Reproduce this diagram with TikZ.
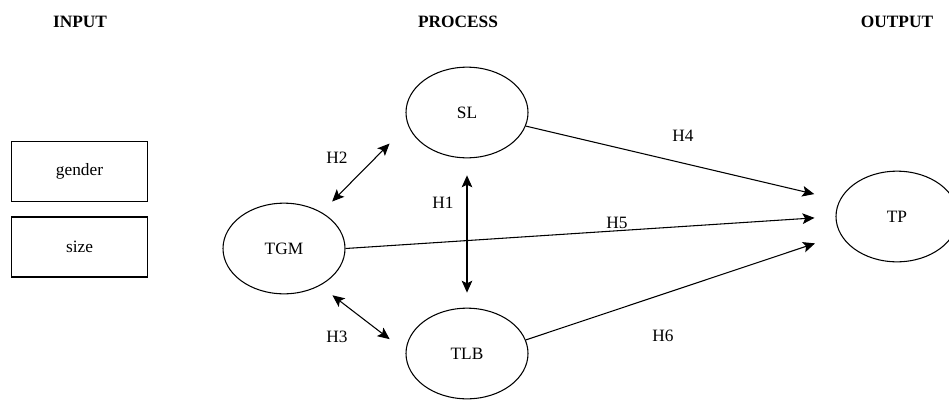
\documentclass[tikz,border=0pt]{standalone}
\usepackage{fontspec}
\setmainfont{Liberation Serif}
\usepackage{tikz}
\usetikzlibrary{arrows.meta, positioning, shapes.geometric}

\begin{document}
\begin{tikzpicture}[x=0.75pt, y=-0.75pt,
		every node/.style={font=\fontsize{13pt}{15pt}\selectfont},
		var/.style={draw, line width=0.8pt, ellipse, minimum width=91.5pt, minimum height=68pt, inner sep=0pt},
		ctrl/.style={draw, line width=0.8pt, rectangle, minimum width=102.5pt, minimum height=45pt, inner sep=0pt},
		head/.style={font=\bfseries\fontsize{13pt}{15pt}\selectfont},
		link/.style={line width=0.8pt, -{Stealth[length=9pt, width=8pt, inset=2pt]}},
		both/.style={line width=0.8pt, {Stealth[length=9pt, width=8pt, inset=2pt]}-{Stealth[length=9pt, width=8pt, inset=2pt]}}]
		\useasboundingbox (0,0) rectangle (949,400);
		
		% Column headings
		\node[head] (hin) at (80,22) {INPUT};
		\node[head] (hpro) at (458,22) {PROCESS};
		\node[head] (hout) at (897,22) {OUTPUT};
		
		% Control variables
		\node[ctrl] (gender) at (79.5,171.5) {gender};
		\node[ctrl] (size) at (79.5,247) {size};
		
		% Constructs
		\node[var] (TGM) at (284,248.5) {TGM};
		\node[var] (SL) at (467,112.5) {SL};
		\node[var] (TLB) at (467,353.5) {TLB};
		\node[var] (TP) at (897,216.5) {TP};
		
		% Correlations
		\draw[both, shorten <=11.25pt, shorten >=19.5pt] (TGM.44) -- (SL.192);
		\draw[both, shorten <=11.8pt, shorten >=15pt] (TGM.314) -- (TLB.178);
		\draw[both, shorten <=12.75pt, shorten >=11.25pt] (SL.south) -- (TLB.north);
		
		% Effects on TP
		\draw[link, shorten >=19.5pt] (SL.-13) -- (TP.164);
		\draw[link, shorten >=15.75pt] (TGM.east) -- (TP.180);
		\draw[link, shorten >=20.25pt] (TLB.13) -- (TP.198);
		
		% Hypothesis labels
		\node (h1) at (443,203) {H1};
		\node (h2) at (337,158) {H2};
		\node (h3) at (337,337) {H3};
		\node (h4) at (683,136) {H4};
		\node (h5) at (617,223) {H5};
		\node (h6) at (663,336) {H6};
	\end{tikzpicture}
\end{document}
